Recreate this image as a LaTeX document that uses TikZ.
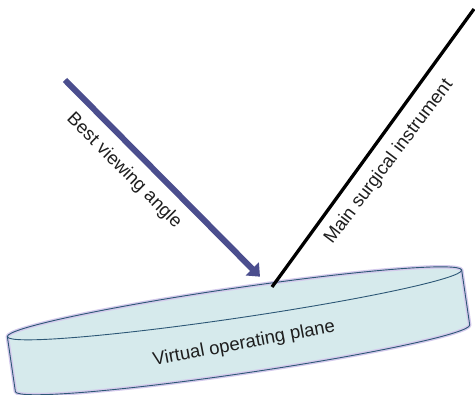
\documentclass[tikz,border=0pt]{standalone}
\usepackage{fontspec}
\setmainfont{Liberation Sans}
\usetikzlibrary{arrows.meta}
\definecolor{discfill}{RGB}{214,234,236}
\definecolor{discedge}{RGB}{45,88,118}
\definecolor{discglow}{RGB}{212,202,236}
\definecolor{arrowblue}{RGB}{75,78,142}
\definecolor{txt}{RGB}{30,30,30}
\tikzset{
  lbl/.style={font=\fontsize{18.5}{22}\selectfont, text=txt, inner sep=0pt},
  viewarrow/.style={arrowblue, line width=6pt, -{Triangle[length=11pt,width=18pt]}},
  instrument/.style={black, line width=3.3pt},
  discline/.style={discedge, line width=0.9pt},
}
\begin{document}
\begin{tikzpicture}[x=1pt,y=1pt]
\useasboundingbox (0,0) rectangle (475,395);
% disc (cylinder)
\begin{scope}[shift={(234.5,91.65)}, rotate=8.35]
  \path[draw=discglow, line width=3.6pt, fill=discfill, line join=round]
    (-229.6,0) -- (-229.6,-55.5)
    arc[start angle=180, end angle=360, x radius=229.6, y radius=15]
    -- (229.6,0)
    arc[start angle=0, end angle=180, x radius=229.6, y radius=15] -- cycle;
  \draw[discline, line join=round]
    (-229.6,0) -- (-229.6,-55.5)
    arc[start angle=180, end angle=360, x radius=229.6, y radius=15]
    -- (229.6,0);
  \draw[discline] (0,0) ellipse [x radius=229.6, y radius=15];
\end{scope}
\node[lbl, rotate=10.7] (plane) at (244,51) {Virtual operating plane};
% best viewing angle arrow
\coordinate (va) at (65,315);
\coordinate (vb) at (260,118.3);
\draw[viewarrow] (va) -- (vb);
\node[lbl, rotate=-45] (view) at (124,224) {Best viewing angle};
% instrument
\coordinate (ia) at (272,108);
\coordinate (ib) at (474,386);
\draw[instrument] (ia) -- (ib);
\node[lbl, rotate=53] (inst) at (389,233) {Main surgical instrument};
\end{tikzpicture}
\end{document}
